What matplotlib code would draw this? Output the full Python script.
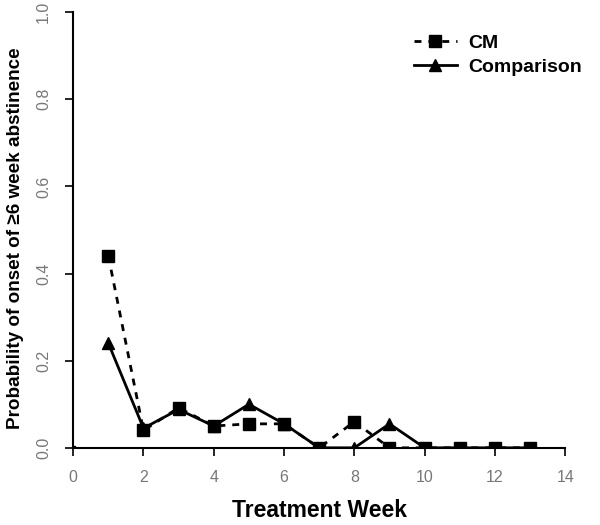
import numpy as np
import matplotlib
matplotlib.use('Agg')
import matplotlib.pyplot as plt

plt.rcParams['font.family'] = ['Liberation Sans', 'DejaVu Sans']

# 数据：治疗周与概率
weeks = [1, 2, 3, 4, 5, 6, 7, 8, 9, 10, 11, 12, 13]
cm = [0.44, 0.04, 0.092, 0.05, 0.055, 0.055, 0.0, 0.06, 0.0, 0.0, 0.0, 0.0, 0.0]
comparison = [0.24, 0.045, 0.088, 0.05, 0.10, 0.055, 0.0, 0.0, 0.055, 0.0, 0.0, 0.0, 0.0]
x_ticks = [0, 2, 4, 6, 8, 10, 12, 14]
y_ticks = [0.0, 0.2, 0.4, 0.6, 0.8, 1.0]

fig = plt.figure(figsize=(6, 5.25), dpi=100)
ax = fig.add_axes([0.122, 0.147, 0.82, 0.83])

ax.plot(weeks, cm, color='black', linestyle=(0, (2.5, 2.5)), linewidth=2,
        marker='s', markersize=8, label='CM')
ax.plot(weeks, comparison, color='black', linestyle='-', linewidth=2,
        marker='^', markersize=8, label='Comparison')
ax.plot([0], [0], color='black', marker='s', markersize=3)

ax.set_xlim(0, 14)
ax.set_ylim(0, 1.0)
ax.set_xticks(x_ticks)
ax.set_yticks(y_ticks)
ax.set_yticklabels([f'{v:.1f}' for v in y_ticks], rotation=90, va='center')
ax.tick_params(axis='both', direction='out', length=6, width=1.2,
               labelsize=11.5, labelcolor='#777777', pad=10)
for side in ['top', 'right']:
    ax.spines[side].set_visible(False)
for side in ['left', 'bottom']:
    ax.spines[side].set_linewidth(1.5)

ax.set_xlabel('Treatment Week', fontsize=16.5, fontweight='bold', labelpad=10)
ax.set_ylabel('Probability of onset of ≥6 week abstinence', fontsize=13.6,
              fontweight='bold')
ax.yaxis.set_label_coords(-0.1, 0.48)

ax.legend(loc='upper right', bbox_to_anchor=(1.07, 0.99), frameon=False,
          prop={'weight': 'bold', 'size': 14}, handlelength=2.2,
          handletextpad=0.6, labelspacing=0.35)

fig.savefig('out.png', dpi=100)
